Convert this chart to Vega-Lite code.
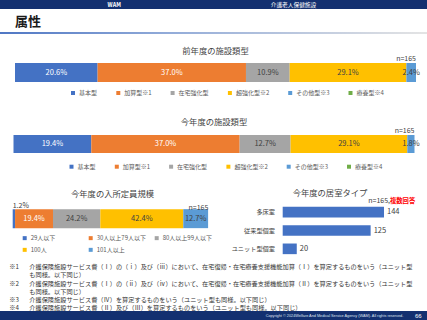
{
  "$schema": "https://vega.github.io/schema/vega-lite/v6.json",
  "padding": 0,
  "spacing": 0,
  "bounds": "flush",
  "background": "#ffffff",
  "config": {
    "view": {"stroke": null},
    "font": "Noto Sans CJK JP",
    "legend": {"orient": "none", "direction": "horizontal", "symbolType": "square", "symbolSize": 16, "symbolStrokeWidth": 0, "labelFontSize": 6, "labelColor": "#595959", "labelFont": "Noto Sans CJK JP", "padding": 0, "labelOffset": 3, "columnPadding": 17.3}
  },
  "resolve": {"scale": {"x": "independent", "y": "independent", "color": "independent"}, "legend": {"color": "independent"}},
  "datasets": {
    "fac1": [
      {"cat": "基本型", "v": 0.206, "o": 1},
      {"cat": "加算型※1", "v": 0.370, "o": 2},
      {"cat": "在宅強化型", "v": 0.109, "o": 3},
      {"cat": "超強化型※2", "v": 0.291, "o": 4},
      {"cat": "その他型※3", "v": 0.024, "o": 5},
      {"cat": "療養型※4", "v": 0, "o": 6}
    ],
    "fac2": [
      {"cat": "基本型", "v": 0.194, "o": 1},
      {"cat": "加算型※1", "v": 0.370, "o": 2},
      {"cat": "在宅強化型", "v": 0.127, "o": 3},
      {"cat": "超強化型※2", "v": 0.291, "o": 4},
      {"cat": "その他型※3", "v": 0.018, "o": 5},
      {"cat": "療養型※4", "v": 0, "o": 6}
    ],
    "cap": [
      {"cat": "29人以下", "v": 0.012, "o": 1},
      {"cat": "30人以上79人以下", "v": 0.194, "o": 2},
      {"cat": "80人以上99人以下", "v": 0.242, "o": 3},
      {"cat": "100人", "v": 0.424, "o": 4},
      {"cat": "101人以上", "v": 0.127, "o": 5}
    ],
    "room": [
      {"type": "多床室", "n": 144},
      {"type": "従来型個室", "n": 125},
      {"type": "ユニット型個室", "n": 20}
    ],
    "notes": [
      {"i": 1, "m": "※1", "t": "介護保険施設サービス費（Ⅰ）の（ⅰ）及び（ⅲ）において、在宅復帰・在宅療養支援機能加算（Ⅰ）を算定するものをいう（ユニット型"},
      {"i": 2, "m": "", "t": "も同様。以下同じ）"},
      {"i": 3, "m": "※2", "t": "介護保険施設サービス費（Ⅰ）の（ⅱ）及び（ⅳ）において、在宅復帰・在宅療養支援機能加算（Ⅱ）を算定するものをいう（ユニット型"},
      {"i": 4, "m": "", "t": "も同様。以下同じ）"},
      {"i": 5, "m": "※3", "t": "介護保険施設サービス費（Ⅳ）を算定するものをいう（ユニット型も同様。以下同じ）"},
      {"i": 6, "m": "※4", "t": "介護保険施設サービス費（Ⅱ）及び（Ⅲ）を算定するものをいう（ユニット型も同様。以下同じ）"}
    ]
  },
  "vconcat": [
    {
      "width": 427, "height": 9,
      "view": {"fill": "#133070", "stroke": null},
      "data": {"values": [{"label": "WAM", "side": "左"}, {"label": "介護老人保健施設", "side": "右"}]},
      "encoding": {
        "y": {"datum": "h", "type": "nominal", "scale": {"domain": ["h"], "paddingInner": 0, "paddingOuter": 0}, "axis": null},
        "x": {"field": "side", "type": "nominal", "scale": {"domain": ["左", "右"], "range": [3.3, 420.5]}, "axis": null},
        "text": {"field": "label"}
      },
      "layer": [
        {"transform": [{"filter": "datum.side == '右'"}],
         "mark": {"type": "text", "align": "right", "baseline": "middle", "color": "#ffffff", "fontSize": 5.7}},
        {"transform": [{"filter": "datum.side == '左'"}],
         "mark": {"type": "text", "align": "left", "baseline": "middle", "color": "#ffffff", "fontWeight": "bold", "fontSize": 5.5}}
      ]
    },
    {
      "width": 427, "height": 23,
      "data": {"values": [{"label": "属性", "p": 0}]},
      "mark": {"type": "text", "align": "left", "baseline": "middle", "fontSize": 13, "fontWeight": "bold", "color": "#1a1a1a", "dy": 1.2},
      "encoding": {"x": {"field": "p", "type": "quantitative", "scale": {"domain": [0, 1], "range": [15, 420]}, "axis": null},
                   "y": {"datum": "t", "type": "nominal", "scale": {"domain": ["t"], "paddingInner": 0, "paddingOuter": 0}, "axis": null},
                   "text": {"field": "label"}}
    },
    {
      "width": 427, "height": 2,
      "data": {"values": [{"a": 0, "b": 1}]},
      "mark": {"type": "rect", "fill": {"x1": 0, "y1": 0, "x2": 1, "y2": 0, "gradient": "linear", "stops": [{"offset": 0, "color": "#4f77c4"}, {"offset": 0.4, "color": "#93acd9"}, {"offset": 1, "color": "#e4e4e4"}]}},
      "encoding": {"x": {"field": "a", "type": "quantitative", "scale": {"domain": [0, 1], "range": [0, 427]}, "axis": null}, "x2": {"field": "b"}}
    },
    {"width": 427, "height": 29, "data": {"values": []}, "mark": "text", "encoding": {}},
    {
      "width": 427, "height": 19,
      "data": {"name": "fac1"},
      "layer": [
        {"transform": [{"stack": "v", "groupby": [], "sort": [{"field": "o", "order": "ascending"}], "as": ["v0", "v1"]}],
         "mark": {"type": "rect"},
         "encoding": {
           "x": {"field": "v0", "type": "quantitative", "scale": {"domain": [0, 1], "range": [15, 416]}, "axis": null},
           "x2": {"field": "v1"},
           "color": {"field": "cat", "type": "nominal", "scale": {"domain": ["基本型", "加算型※1", "在宅強化型", "超強化型※2", "その他型※3", "療養型※4"], "range": ["#4472C4", "#ED7D31", "#A5A5A5", "#FFC000", "#5B9BD5", "#70AD47"]}, "legend": {"title": null, "legendX": 70, "legendY": 27}}
         }},
        {"transform": [{"stack": "v", "groupby": [], "sort": [{"field": "o", "order": "ascending"}], "as": ["v0", "v1"]}, {"calculate": "(datum.v0 + datum.v1) / 2", "as": "mid"}, {"filter": "datum.v > 0"}],
         "mark": {"type": "text", "fontSize": 7.5, "baseline": "middle"},
         "encoding": {
           "x": {"field": "mid", "type": "quantitative"},
           "text": {"field": "v", "type": "quantitative", "format": ".1%"},
           "color": {"condition": {"test": "datum.o <= 2", "value": "#ffffff"}, "value": "#404040"}
         }},
        {"data": {"values": [{"label": "前年度の施設類型"}]},
         "mark": {"type": "text", "fontSize": 8.3, "color": "#3f3f3f", "dy": -20.5},
         "encoding": {"x": {"datum": 0.5, "type": "quantitative"}, "text": {"field": "label"}}},
        {"data": {"values": [{"label": "n=165"}]},
         "mark": {"type": "text", "align": "right", "fontSize": 7, "color": "#404040", "dy": -13.5},
         "encoding": {"x": {"datum": 1, "type": "quantitative"}, "text": {"field": "label"}}}
      ]
    },
    {"width": 427, "height": 53, "data": {"values": []}, "mark": "text", "encoding": {}},
    {
      "width": 427, "height": 18,
      "data": {"name": "fac2"},
      "layer": [
        {"transform": [{"stack": "v", "groupby": [], "sort": [{"field": "o", "order": "ascending"}], "as": ["v0", "v1"]}],
         "mark": {"type": "rect"},
         "encoding": {
           "x": {"field": "v0", "type": "quantitative", "scale": {"domain": [0, 1], "range": [13.5, 414.5]}, "axis": null},
           "x2": {"field": "v1"},
           "color": {"field": "cat", "type": "nominal", "scale": {"domain": ["基本型", "加算型※1", "在宅強化型", "超強化型※2", "その他型※3", "療養型※4"], "range": ["#4472C4", "#ED7D31", "#A5A5A5", "#FFC000", "#5B9BD5", "#70AD47"]}, "legend": {"title": null, "legendX": 68.5, "legendY": 28.7}}
         }},
        {"transform": [{"stack": "v", "groupby": [], "sort": [{"field": "o", "order": "ascending"}], "as": ["v0", "v1"]}, {"calculate": "(datum.v0 + datum.v1) / 2", "as": "mid"}, {"filter": "datum.v > 0"}],
         "mark": {"type": "text", "fontSize": 7.5, "baseline": "middle"},
         "encoding": {
           "x": {"field": "mid", "type": "quantitative"},
           "text": {"field": "v", "type": "quantitative", "format": ".1%"},
           "color": {"condition": {"test": "datum.o <= 2", "value": "#ffffff"}, "value": "#404040"}
         }},
        {"data": {"values": [{"label": "今年度の施設類型"}]},
         "mark": {"type": "text", "fontSize": 8.3, "color": "#3f3f3f", "dy": -21.5},
         "encoding": {"x": {"datum": 0.5, "type": "quantitative"}, "text": {"field": "label"}}},
        {"data": {"values": [{"label": "n=165"}]},
         "mark": {"type": "text", "align": "right", "fontSize": 7, "color": "#404040", "dy": -13.5},
         "encoding": {"x": {"datum": 1, "type": "quantitative"}, "text": {"field": "label"}}}
      ]
    },
    {"width": 427, "height": 49.15, "data": {"values": []}, "mark": "text", "encoding": {}},
    {
      "width": 427, "height": 55,
      "resolve": {"scale": {"x": "independent", "y": "independent", "color": "independent"}, "legend": {"color": "independent"}},
      "layer": [
        {
          "data": {"name": "cap"},
          "layer": [
            {"transform": [{"stack": "v", "groupby": [], "sort": [{"field": "o", "order": "ascending"}], "as": ["v0", "v1"]}],
             "mark": {"type": "rect"},
             "encoding": {
               "x": {"field": "v0", "type": "quantitative", "scale": {"domain": [0, 1], "range": [12.7, 208.3]}, "axis": null},
               "x2": {"field": "v1"},
               "y": {"datum": "cap", "type": "nominal", "scale": {"domain": ["cap"], "range": [6.15, 25.15], "paddingInner": 0, "paddingOuter": 0}, "axis": null},
               "color": {"field": "cat", "type": "nominal", "scale": {"domain": ["29人以下", "30人以上79人以下", "80人以上99人以下", "100人", "101人以上"], "range": ["#4472C4", "#ED7D31", "#A5A5A5", "#FFC000", "#5B9BD5"]}, "legend": {"title": null, "legendX": 21.7, "legendY": 32.15, "columns": 3, "gridAlign": "all", "columnPadding": 7, "rowPadding": 5.7}}
             }},
            {"transform": [{"stack": "v", "groupby": [], "sort": [{"field": "o", "order": "ascending"}], "as": ["v0", "v1"]}, {"calculate": "(datum.v0 + datum.v1) / 2", "as": "mid"}, {"filter": "datum.o >= 2"}],
             "mark": {"type": "text", "fontSize": 7.5, "baseline": "middle"},
             "encoding": {
               "x": {"field": "mid", "type": "quantitative"},
               "y": {"datum": "cap", "type": "nominal"},
               "text": {"field": "v", "type": "quantitative", "format": ".1%"},
               "color": {"condition": {"test": "datum.o == 2", "value": "#ffffff"}, "value": "#404040"}
             }},
            {"transform": [{"stack": "v", "groupby": [], "sort": [{"field": "o", "order": "ascending"}], "as": ["v0", "v1"]}, {"filter": "datum.o == 1"}],
             "mark": {"type": "text", "fontSize": 7, "align": "left", "color": "#404040", "dy": -12.3},
             "encoding": {
               "x": {"field": "v0", "type": "quantitative"},
               "y": {"datum": "cap", "type": "nominal"},
               "text": {"field": "v", "type": "quantitative", "format": ".1%"}
             }},
            {"data": {"values": [{"label": "今年度の入所定員規模"}]},
             "mark": {"type": "text", "fontSize": 8.3, "color": "#3f3f3f", "dx": 2, "dy": -24},
             "encoding": {"x": {"datum": 0.5, "type": "quantitative"}, "y": {"datum": "cap", "type": "nominal"}, "text": {"field": "label"}}},
            {"data": {"values": [{"label": "n=165"}]},
             "mark": {"type": "text", "align": "right", "fontSize": 7, "color": "#404040", "dy": -10.5},
             "encoding": {"x": {"datum": 1, "type": "quantitative"}, "y": {"datum": "cap", "type": "nominal"}, "text": {"field": "label"}}}
          ]
        },
        {
          "data": {"name": "room"},
          "layer": [
            {"mark": {"type": "bar", "color": "#4472C4"},
             "encoding": {
               "x": {"field": "n", "type": "quantitative", "scale": {"domain": [0, 200], "range": [282.7, 423.4]}, "axis": null},
               "y": {"field": "type", "type": "nominal", "sort": ["多床室", "従来型個室", "ユニット型個室"], "scale": {"paddingInner": 0.42, "paddingOuter": 0.21}, "axis": null}
             }},
            {"mark": {"type": "text", "align": "left", "dx": 3, "fontSize": 7.5, "color": "#404040"},
             "encoding": {
               "x": {"field": "n", "type": "quantitative"},
               "y": {"field": "type", "type": "nominal", "sort": ["多床室", "従来型個室", "ユニット型個室"]},
               "text": {"field": "n", "type": "quantitative"}
             }},
            {"mark": {"type": "text", "align": "right", "dx": -7.7, "fontSize": 6.2, "color": "#404040"},
             "encoding": {
               "x": {"datum": 0, "type": "quantitative"},
               "y": {"field": "type", "type": "nominal", "sort": ["多床室", "従来型個室", "ユニット型個室"]},
               "text": {"field": "type", "type": "nominal"}
             }},
            {"data": {"values": [{"label": "今年度の居室タイプ"}]},
             "mark": {"type": "text", "fontSize": 8.3, "color": "#3f3f3f", "dx": 47.3, "dy": -36.65},
             "encoding": {"x": {"datum": 0, "type": "quantitative"}, "text": {"field": "label"}}},
            {"data": {"values": [{"label": "n=165,"}]},
             "mark": {"type": "text", "align": "right", "fontSize": 7, "color": "#404040", "dx": 107.3, "dy": -29.35},
             "encoding": {"x": {"datum": 0, "type": "quantitative"}, "text": {"field": "label"}}},
            {"data": {"values": [{"label": "複数回答"}]},
             "mark": {"type": "text", "align": "left", "fontSize": 6.3, "fontWeight": "bold", "color": "#ff0000", "dx": 107.3, "dy": -29.35},
             "encoding": {"x": {"datum": 0, "type": "quantitative"}, "text": {"field": "label"}}}
          ]
        }
      ]
    },
    {
      "width": 427, "height": 52.35,
      "data": {"name": "notes"},
      "encoding": {"y": {"field": "i", "type": "ordinal", "scale": {"range": [5, 54.6], "paddingInner": 0, "paddingOuter": 0}, "axis": null}},
      "layer": [
        {"mark": {"type": "text", "align": "left", "fontSize": 6.2, "color": "#333333"},
         "encoding": {"x": {"datum": 0, "type": "quantitative", "scale": {"domain": [0, 1], "range": [9.3, 29.3]}, "axis": null}, "text": {"field": "m"}}},
        {"mark": {"type": "text", "align": "left", "fontSize": 6.2, "color": "#333333"},
         "encoding": {"x": {"datum": 1, "type": "quantitative"}, "text": {"field": "t"}}}
      ]
    },
    {
      "width": 427, "height": 10.5,
      "view": {"fill": "#133070", "stroke": null},
      "layer": [
        {"data": {"values": [{"label": "Copyright © 2024Welfare And Medical Service Agency (WAM). All rights reserved."}]},
         "mark": {"type": "text", "align": "right", "baseline": "middle", "color": "#dfe4ef", "font": "Liberation Sans", "fontSize": 3.8},
         "encoding": {"x": {"datum": 0, "type": "quantitative", "scale": {"domain": [0, 1], "range": [403.3, 421.7]}, "axis": null},
                      "y": {"datum": "f", "type": "nominal", "scale": {"domain": ["f"], "paddingInner": 0, "paddingOuter": 0}, "axis": null},
                      "text": {"field": "label"}}},
        {"data": {"values": [{"label": "66"}]},
         "mark": {"type": "text", "align": "right", "baseline": "middle", "color": "#ffffff", "font": "Liberation Sans", "fontSize": 6},
         "encoding": {"x": {"datum": 1, "type": "quantitative"},
                      "y": {"datum": "f", "type": "nominal"},
                      "text": {"field": "label"}}}
      ]
    }
  ]
}
